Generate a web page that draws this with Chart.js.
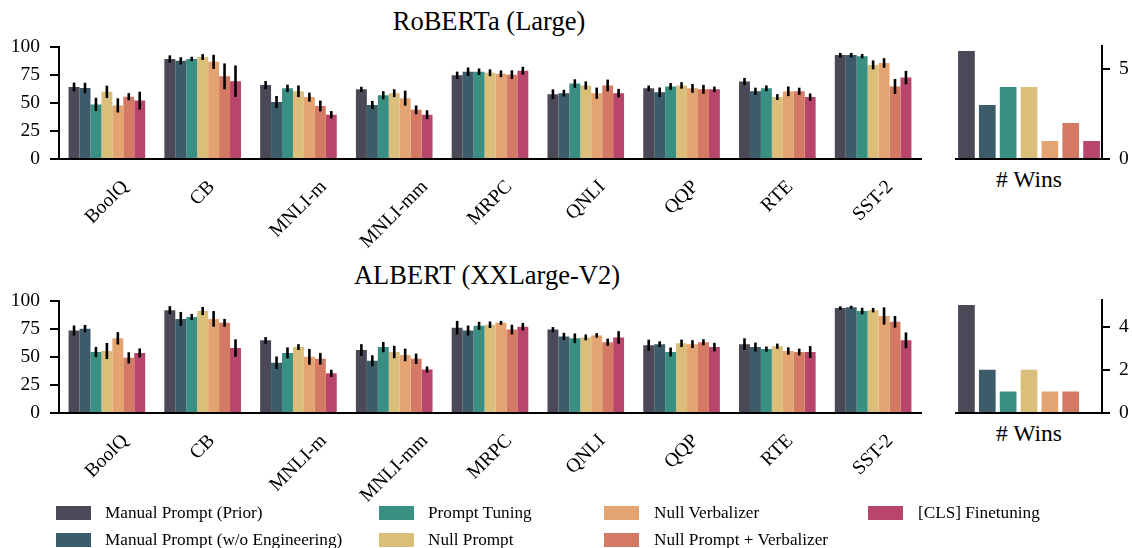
<!DOCTYPE html>
<html>
<head>
<meta charset="utf-8">
<script src="https://cdn.jsdelivr.net/npm/chart.js@4.4.0/dist/chart.umd.min.js"></script>
<style>
  html, body { margin:0; padding:0; background:#fff; }
  body { width:1132px; height:548px; position:relative; overflow:hidden; font-family:"Liberation Serif", "DejaVu Serif", serif; color:#000; }
  canvas { position:absolute; }
  .title { position:absolute; font-size:26.5px; transform:translate(-50%,-50%); white-space:nowrap; }
  .wins { position:absolute; font-size:23.5px; transform:translate(-50%,-50%); white-space:nowrap; }
  .sw { position:absolute; width:35px; height:14px; }
  .lt { position:absolute; font-size:17.2px; transform:translateY(-50%); white-space:nowrap; }
</style>
</head>
<body>
<div class="title" style="left:489px; top:21px;">RoBERTa (Large)</div>
<div class="title" style="left:487px; top:275px;">ALBERT (XXLarge-V2)</div>
<div class="wins" style="left:1029px; top:179px;"># Wins</div>
<div class="wins" style="left:1029px; top:433px;"># Wins</div>
<canvas id="topMain" width="935" height="225" style="left:0px; top:25px;"></canvas>
<canvas id="topWins" width="192" height="225" style="left:940px; top:25px;"></canvas>
<canvas id="botMain" width="935" height="225" style="left:0px; top:279px;"></canvas>
<canvas id="botWins" width="192" height="225" style="left:940px; top:279px;"></canvas>
<div id="legend"></div>
<script>
// ---------------- DATA ----------------
const tasks = ["BoolQ", "CB", "MNLI-m", "MNLI-mm", "MRPC", "QNLI", "QQP", "RTE", "SST-2"];
const methods = ["Manual Prompt (Prior)", "Manual Prompt (w/o Engineering)", "Prompt Tuning", "Null Prompt", "Null Verbalizer", "Null Prompt + Verbalizer", "[CLS] Finetuning"];
const colors = ["#4b4858", "#3b5c68", "#3a8f83", "#dbbe7a", "#e3a471", "#d47964", "#b8466a"];
const mainTicks = [0, 25, 50, 75, 100];

// RoBERTa (Large): one array per method, values per task
const robManualPrior = [64.1, 89.1, 65.8, 62.0, 74.5, 57.7, 62.9, 69.0, 92.5];
const robManualNoEng = [63.2, 87.4, 50.7, 48.1, 77.7, 58.6, 59.4, 60.3, 92.5];
const robPromptTuning = [48.6, 89.1, 62.9, 56.8, 77.7, 67.2, 64.6, 62.9, 91.6];
const robNullPrompt = [59.8, 90.8, 60.3, 58.6, 76.8, 65.5, 65.5, 55.1, 83.8];
const robNullVerb = [47.7, 86.5, 55.1, 54.2, 75.9, 58.6, 62.9, 60.3, 85.5];
const robNullPromptVerb = [55.5, 73.6, 47.2, 43.8, 75.1, 65.5, 62.0, 60.3, 64.6];
const robCLS = [52.0, 69.3, 39.4, 39.4, 78.6, 58.6, 62.0, 55.1, 72.5];
// RoBERTa error bar half-widths
const robErrManualPrior = [3.9, 3.2, 3.6, 2.3, 3.3, 4.3, 2.5, 3.2, 2.0];
const robErrManualNoEng = [4.7, 3.2, 5.4, 3.6, 3.8, 3.0, 4.3, 3.2, 2.0];
const robErrPromptTuning = [5.9, 1.9, 3.3, 3.6, 2.9, 3.8, 3.0, 2.6, 1.9];
const robErrNullPrompt = [5.5, 2.6, 5.2, 3.5, 3.0, 3.6, 2.9, 2.6, 4.0];
const robErrNullVerb = [6.3, 6.3, 4.0, 6.7, 3.0, 5.0, 3.9, 4.3, 4.3];
const robErrNullPromptVerb = [3.2, 11.5, 4.8, 3.9, 3.9, 5.2, 4.0, 3.2, 6.7];
const robErrCLS = [8.0, 14.0, 3.3, 4.0, 3.5, 3.8, 2.5, 3.2, 6.0];
const robWins = [6, 3, 4, 4, 1, 2, 1];
const robWinsTicks = [0, 5];

// ALBERT (XXLarge-V2)
const albManualPrior = [73.4, 91.6, 64.7, 56.1, 76.0, 74.3, 60.4, 61.3, 93.4];
const albManualNoEng = [75.1, 83.8, 44.8, 46.5, 73.4, 68.2, 61.3, 58.7, 94.2];
const albPromptTuning = [54.3, 85.5, 53.5, 58.7, 77.7, 66.5, 54.3, 56.9, 90.8];
const albNullPrompt = [55.2, 90.8, 58.7, 54.3, 78.6, 67.3, 62.1, 59.5, 91.6];
const albNullVerb = [66.5, 83.8, 50.0, 51.7, 80.3, 69.1, 61.3, 55.2, 86.4];
const albNullPromptVerb = [49.1, 80.3, 48.3, 48.3, 74.3, 63.0, 63.0, 54.3, 81.2];
const albCLS = [53.5, 57.8, 35.3, 38.7, 76.9, 67.3, 58.7, 54.3, 64.7];
const albErrManualPrior = [4.5, 3.5, 2.9, 5.2, 6.0, 2.3, 4.9, 5.2, 1.6];
const albErrManualNoEng = [3.3, 6.2, 5.5, 4.9, 4.5, 3.2, 2.5, 4.0, 1.3];
const albErrPromptTuning = [4.5, 2.7, 4.9, 4.6, 3.5, 4.3, 4.0, 2.3, 2.9];
const albErrNullPrompt = [7.2, 3.6, 2.6, 5.5, 2.9, 2.6, 3.3, 2.3, 2.0];
const albErrNullVerb = [5.5, 7.0, 7.0, 5.6, 1.7, 2.0, 3.5, 3.3, 7.7];
const albErrNullPromptVerb = [5.0, 3.5, 5.2, 4.6, 4.3, 3.2, 2.7, 3.0, 5.2];
const albErrCLS = [4.0, 7.8, 3.2, 2.7, 3.3, 5.6, 3.8, 5.3, 7.0];
const albWins = [5, 2, 1, 2, 1, 1, 0];
const albWinsTicks = [0, 2, 4];

// ---------------- RENDERING ----------------
const FONT = "'Liberation Serif', 'DejaVu Serif', serif";
const TICK_SIZE = 19.5;

const errorBarPlugin = {
  id: 'errbars',
  afterDatasetsDraw(chart, args, opts) {
    const errs = opts && opts.errors;
    if (!errs) return;
    const ctx = chart.ctx, y = chart.scales.y;
    ctx.save();
    ctx.strokeStyle = '#000';
    ctx.lineWidth = 2.6;
    chart.data.datasets.forEach((ds, i) => {
      const meta = chart.getDatasetMeta(i);
      meta.data.forEach((bar, j) => {
        const v = ds.data[j], e = errs[i][j];
        ctx.beginPath();
        ctx.moveTo(bar.x, y.getPixelForValue(v - e));
        ctx.lineTo(bar.x, y.getPixelForValue(v + e));
        ctx.stroke();
      });
    });
    ctx.restore();
  }
};

const rotLabelPlugin = {
  id: 'rotlabels',
  afterDraw(chart, args, opts) {
    if (!opts || !opts.labels) return;
    const ctx = chart.ctx, x = chart.scales.x;
    const size = TICK_SIZE;
    ctx.save();
    ctx.font = size + 'px ' + FONT;
    ctx.fillStyle = '#000';
    ctx.textAlign = 'center';
    ctx.textBaseline = 'middle';
    opts.labels.forEach((lab, i) => {
      const px = x.getPixelForValue(i);
      const w = ctx.measureText(lab).width;
      const half = (w + size) * Math.SQRT1_2 / 2;
      ctx.save();
      ctx.translate(px, chart.chartArea.bottom + opts.gap + half);
      ctx.rotate(-Math.PI / 4);
      ctx.fillText(lab, 0, 0);
      ctx.restore();
    });
    ctx.restore();
  }
};

function mainChart(id, series, errors) {
  return new Chart(document.getElementById(id), {
    type: 'bar',
    data: {
      labels: tasks,
      datasets: methods.map((m, i) => ({ label: m, data: series[i], backgroundColor: colors[i], borderWidth: 0 }))
    },
    plugins: [errorBarPlugin, rotLabelPlugin],
    options: {
      responsive: false, animation: false, devicePixelRatio: 1,
      layout: { padding: { top: 18, right: 14, left: 0, bottom: 0 } },
      datasets: { bar: { categoryPercentage: 0.8, barPercentage: 1.0 } },
      plugins: {
        legend: { display: false }, tooltip: { enabled: false }, title: { display: false },
        errbars: { errors: errors },
        rotlabels: { labels: tasks, gap: 18 }
      },
      scales: {
        x: {
          grid: { display: false },
          border: { display: true, color: '#000', width: 2 },
          ticks: { display: false },
          afterFit(s) { s.height = 91; }
        },
        y: {
          min: 0, max: 100,
          afterBuildTicks(s) { s.ticks = mainTicks.map(v => ({ value: v })); },
          ticks: { font: { family: FONT, size: TICK_SIZE }, color: '#000', padding: 10 },
          grid: { drawOnChartArea: false, drawTicks: true, tickLength: 9, color: '#000', lineWidth: 2 },
          border: { display: true, color: '#000', width: 2 },
          afterFit(s) { s.width = 59; }
        }
      }
    }
  });
}

function winsChart(id, wins, ticks) {
  const ymax = Math.max(...wins) * 1.05;
  return new Chart(document.getElementById(id), {
    type: 'bar',
    data: {
      labels: methods,
      datasets: [{ label: '# Wins', data: wins, backgroundColor: colors, borderWidth: 0 }]
    },
    options: {
      responsive: false, animation: false, devicePixelRatio: 1,
      layout: { padding: { top: 18, right: 0, left: 16, bottom: 0 } },
      datasets: { bar: { categoryPercentage: 0.8, barPercentage: 1.0 } },
      plugins: { legend: { display: false }, tooltip: { enabled: false } },
      scales: {
        x: {
          grid: { display: false },
          border: { display: true, color: '#000', width: 2 },
          ticks: { display: false },
          afterFit(s) { s.height = 91; }
        },
        y: {
          position: 'right',
          min: 0, max: ymax,
          afterBuildTicks(s) { s.ticks = ticks.map(v => ({ value: v })); },
          ticks: { font: { family: FONT, size: TICK_SIZE }, color: '#000', padding: 9 },
          grid: { drawOnChartArea: false, drawTicks: true, tickLength: 8, color: '#000', lineWidth: 2 },
          border: { display: true, color: '#000', width: 2 },
          afterFit(s) { s.width = 30; }
        }
      }
    }
  });
}

mainChart('topMain',
  [robManualPrior, robManualNoEng, robPromptTuning, robNullPrompt, robNullVerb, robNullPromptVerb, robCLS],
  [robErrManualPrior, robErrManualNoEng, robErrPromptTuning, robErrNullPrompt, robErrNullVerb, robErrNullPromptVerb, robErrCLS]);
winsChart('topWins', robWins, robWinsTicks);
mainChart('botMain',
  [albManualPrior, albManualNoEng, albPromptTuning, albNullPrompt, albNullVerb, albNullPromptVerb, albCLS],
  [albErrManualPrior, albErrManualNoEng, albErrPromptTuning, albErrNullPrompt, albErrNullVerb, albErrNullPromptVerb, albErrCLS]);
winsChart('botWins', albWins, albWinsTicks);

// Legend (column-major, 2 rows x 4 columns)
const legendCols = [{ sw: 56, tx: 105 }, { sw: 379, tx: 428 }, { sw: 604, tx: 654 }, { sw: 868, tx: 918 }];
const legendRows = [513, 540];
const legend = document.getElementById('legend');
methods.forEach((m, i) => {
  const c = legendCols[Math.floor(i / 2)], r = legendRows[i % 2];
  const sw = document.createElement('div');
  sw.className = 'sw';
  sw.style.left = c.sw + 'px';
  sw.style.top = (r - 7) + 'px';
  sw.style.background = colors[i];
  legend.appendChild(sw);
  const t = document.createElement('div');
  t.className = 'lt';
  t.style.left = c.tx + 'px';
  t.style.top = r + 'px';
  t.textContent = m;
  legend.appendChild(t);
});
</script>
</body>
</html>
